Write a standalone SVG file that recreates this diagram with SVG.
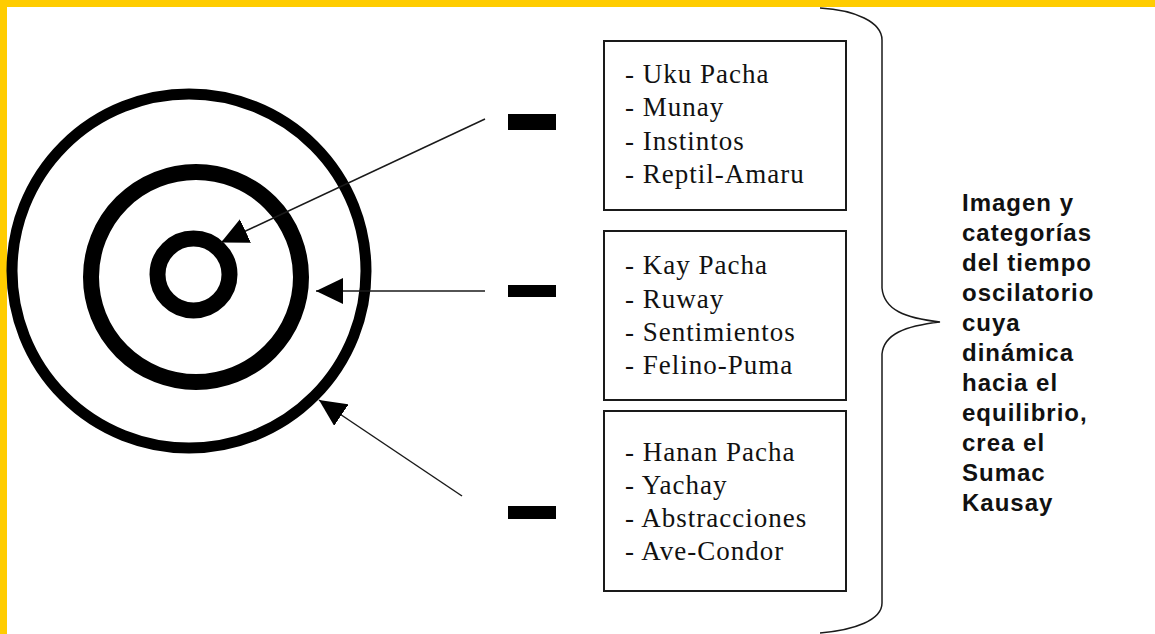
<svg xmlns="http://www.w3.org/2000/svg" width="1155" height="634" viewBox="0 0 1155 634">
<style>
.ring{fill:none;stroke:#000}
.box{fill:#fff;stroke:#1a1a1a;stroke-width:2}
.bt{font-family:"Liberation Serif","Times New Roman",serif;font-size:27px;letter-spacing:1px;fill:#111}
.rt{font-family:"Liberation Sans",Arial,sans-serif;font-size:24px;font-weight:bold;letter-spacing:1px;fill:#111}
.conn{stroke:#1a1a1a;stroke-width:1.5;fill:none}
.bar{fill:#000}
</style>
<defs>
<marker id="ah" viewBox="0 0 27 26" refX="27" refY="13" markerWidth="27" markerHeight="26" markerUnits="userSpaceOnUse" orient="auto">
<path d="M0,0 L27,13 L0,26 z" fill="#000"/>
</marker>
</defs>
<rect width="1155" height="634" fill="#fff"/>
<rect x="0" y="0" width="1155" height="7" fill="#FFCC00"/>
<rect x="0" y="0" width="7" height="634" fill="#FFCC00"/>

<g id="rings">
<circle class="ring" cx="189" cy="271" r="177" stroke-width="11"/>
<circle class="ring" cx="196" cy="277" r="105" stroke-width="16"/>
<circle class="ring" cx="193.5" cy="274.5" r="36" stroke-width="16"/>
</g>

<g id="connectors">
<line class="conn" x1="485" y1="119" x2="221" y2="242.5" marker-end="url(#ah)"/>
<line class="conn" x1="485" y1="291" x2="316" y2="291" marker-end="url(#ah)"/>
<line class="conn" x1="462" y1="496" x2="319" y2="400" marker-end="url(#ah)"/>
</g>

<g id="bars">
<rect class="bar" x="508" y="114" width="48" height="16"/>
<rect class="bar" x="508" y="285" width="48" height="12"/>
<rect class="bar" x="508" y="506" width="48" height="13"/>
</g>

<g id="box-uku">
<rect class="box" x="604" y="41" width="242" height="169"/>
<text class="bt" x="625" y="83">- Uku Pacha</text>
<text class="bt" x="625" y="116">- Munay</text>
<text class="bt" x="625" y="150">- Instintos</text>
<text class="bt" x="625" y="183">- Reptil-Amaru</text>
</g>

<g id="box-kay">
<rect class="box" x="604" y="231" width="242" height="169"/>
<text class="bt" x="625" y="274">- Kay Pacha</text>
<text class="bt" x="625" y="308">- Ruway</text>
<text class="bt" x="625" y="341">- Sentimientos</text>
<text class="bt" x="625" y="374">- Felino-Puma</text>
</g>

<g id="box-hanan">
<rect class="box" x="604" y="411" width="242" height="180"/>
<text class="bt" x="625" y="461">- Hanan Pacha</text>
<text class="bt" x="625" y="494">- Yachay</text>
<text class="bt" x="625" y="527">- Abstracciones</text>
<text class="bt" x="625" y="560">- Ave-Condor</text>
</g>

<g id="brace">
<path class="conn" d="M820,8 C855,10 882,22 882,40 L882,288 C884,310 905,318 940,322 C905,326 884,334 882,354 L882,603 C882,620 855,630 820,633"/>
</g>

<g id="caption">
<text class="rt" x="962" y="210.5">Imagen y</text>
<text class="rt" x="962" y="240.5">categorías</text>
<text class="rt" x="962" y="270.5">del tiempo</text>
<text class="rt" x="962" y="300.5">oscilatorio</text>
<text class="rt" x="962" y="330.5">cuya</text>
<text class="rt" x="962" y="360.5">dinámica</text>
<text class="rt" x="962" y="390.5">hacia el</text>
<text class="rt" x="962" y="420.5">equilibrio,</text>
<text class="rt" x="962" y="450.5">crea el</text>
<text class="rt" x="962" y="480.5">Sumac</text>
<text class="rt" x="962" y="510.5">Kausay</text>
</g>
</svg>
